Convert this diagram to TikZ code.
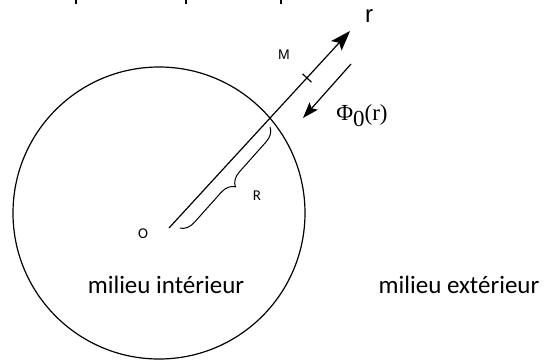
\documentclass[tikz,border=0pt]{standalone}
\usepackage{fontspec}
\setmainfont{Carlito}
\newfontfamily\arialfont{Liberation Sans}
\newfontfamily\timesfont{Liberation Serif}
\usetikzlibrary{positioning,arrows.meta,decorations.pathreplacing}

\begin{document}
\begin{tikzpicture}[x=1pt, y=-1pt, line width=1.2pt,
    lbl/.style={inner sep=0pt, anchor=base},
    medium/.style={lbl, font=\fontsize{25}{29}\selectfont},
    small/.style={lbl, font=\fontsize{15}{17}\selectfont}]
    \useasboundingbox (0,0) rectangle (544,360);

    % cut-off marks at the top edge
    \foreach \x in {76,186,281}
      \draw[line width=1.6pt] (\x,0) -- (\x,4);

    \coordinate (centre) at (159,213);
    \coordinate (o) at (169,228);
    \coordinate (tip) at (350,31);
    \coordinate (m) at (307,78);
    \coordinate (b1) at (180,228);
    \coordinate (b2) at (270,127);
    \coordinate (f1) at (351,64);
    \coordinate (f2) at (303,118);

    \draw (centre) circle[radius=146];
    \draw[-{Stealth[length=20pt,width=14pt,inset=4pt]}] (o) -- (tip);
    \draw ([shift={(-4.4,-4.1)}]m) -- ([shift={(4.4,4.1)}]m);
    \draw[-{Stealth[length=16pt,width=11pt,inset=3pt]}] (f1) -- (f2);
    \draw[line width=1pt, decorate, decoration={brace, amplitude=14pt}] (b2) -- (b1);

    \node[lbl, font=\arialfont\fontsize{24}{28}\selectfont] (r) at (369,22) {r};
    \node[lbl, font=\arialfont\fontsize{14}{16}\selectfont] (mlabel) at (284,59) {M};
    \node[lbl, font=\timesfont\fontsize{23}{27}\selectfont] (phi) at (362,120) {Φ\raisebox{-0.3em}{0}(r)};
    \node[small] (olabel) at (143,238) {O};
    \node[small] (rlabel) at (257,200) {R};
    \node[medium] (inside) at (166,293) {milieu intérieur};
    \node[medium] (outside) at (459,293) {milieu extérieur};
\end{tikzpicture}
\end{document}
